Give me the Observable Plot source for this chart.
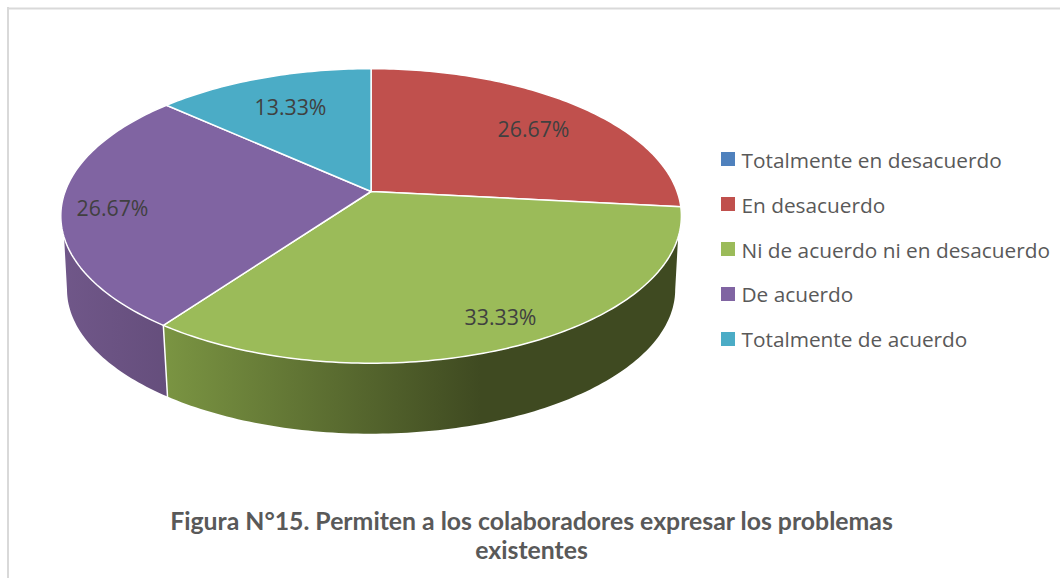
<!DOCTYPE html>
<html>
<head>
<meta charset="utf-8">
<script src="https://cdn.jsdelivr.net/npm/d3@7"></script>
<script src="https://cdn.jsdelivr.net/npm/@observablehq/plot@0.6"></script>
<style>html,body{margin:0;padding:0;background:#fff}svg{display:block}</style>
</head>
<body>
<div id="chart"></div>
<script>
const categories = ["Totalmente en desacuerdo","En desacuerdo","Ni de acuerdo ni en desacuerdo","De acuerdo","Totalmente de acuerdo"];
const percents = [0, 26.67, 33.33, 26.67, 13.33];
const colors = ["#4f81bd","#c0504d","#9bbb59","#8064a2","#4bacc6"];
const titleLines = ["Figura N°15. Permiten a los colaboradores expresar los problemas","existentes"];

// perspective view of the pie disc
const cx = 370.6, cy = 191, persp = 0.166, ax = 306, ay = 143.2;
const botScale = 0.98, botBottom = 433, topBottom = 362.5;
const project = deg => {
  const t = deg * Math.PI / 180, X = Math.sin(t), Y = -Math.cos(t), w = 1 - persp * Y;
  return [cx + ax * X / w, cy + ay * Y / w];
};
const lower = ([x, y]) => [cx + botScale * (x - cx), botBottom + botScale * (y - topBottom)];
const arcDeg = (a, b) => {
  const n = Math.max(2, Math.ceil(Math.abs(b - a))), out = [];
  for (let i = 0; i <= n; i++) out.push(a + (b - a) * i / n);
  return out;
};
const arcs = d3.pie().sort(null).value(d => d)(percents).map((a, i) => ({
  category: categories[i], value: percents[i],
  a0: a.startAngle * 180 / Math.PI, a1: a.endAngle * 180 / Math.PI
})).filter(a => a.value > 0);

const slicePts = arcs.flatMap(a => {
  const pts = [[cx, cy], ...arcDeg(a.a0, a.a1).map(project), [cx, cy]];
  return pts.map(([x, y]) => ({x, y, category: a.category}));
});
const labels = [
  {t: "26.67%", x: 533, y: 130}, {t: "33.33%", x: 500, y: 318},
  {t: "26.67%", x: 112, y: 209}, {t: "13.33%", x: 290, y: 108}
];
const wallSlice = (name, a, b, c) => {
  const top = arcDeg(a, b).map(project);
  const bot = arcDeg(b, c).map(d => lower(project(d)));
  const pts = [...top, ...bot, top[0]];
  return pts.map(([x, y]) => ({x, y, name}));
};
const tanR = 107.7, tanL = 252.3, wideR = 99.6, wideL = 260.4;
const divide = arcs.find(a => a.category === "De acuerdo").a0;
const greenWall = wallSlice("g", tanR, divide, wideR);
const purpleWall = wallSlice("p", tanL, divide, wideL);
const divTop = project(divide), divBot = lower(divTop);

const defs = () => {
  const d = d3.create("svg:defs");
  const add = (id, stops) => {
    const g = d.append("linearGradient").attr("id", id).attr("gradientUnits", "userSpaceOnUse")
      .attr("x1", stops[0][0]).attr("x2", stops[stops.length - 1][0]).attr("y1", 0).attr("y2", 0);
    const x0 = stops[0][0], x1 = stops[stops.length - 1][0];
    stops.forEach(([x, c]) => g.append("stop").attr("offset", (x - x0) / (x1 - x0)).attr("stop-color", c));
  };
  add("gw", [[166, "#7a9442"], [480, "#3f4a21"], [680, "#3f4a21"]]);
  add("pw", [[62, "#705789"], [168, "#654e7c"]]);
  return d.node();
};

const font = "'Open Sans', sans-serif";
const plot = Plot.plot({
  width: 1060, height: 578, margin: 0,
  x: {domain: [0, 1060], range: [0, 1060], axis: null},
  y: {domain: [0, 578], range: [0, 578], axis: null},
  color: {domain: categories, range: colors},
  style: {background: "#fff"},
  marks: [
    defs,
    Plot.ruleY([8], {x1: 7, x2: 1060, stroke: "#d9d9d9", strokeWidth: 2}),
    Plot.ruleX([7.5], {y1: 7, y2: 578, stroke: "#d9d9d9", strokeWidth: 2}),
    Plot.line(greenWall, {x: "x", y: "y", fill: "url(#gw)", stroke: "none", curve: "linear"}),
    Plot.line(purpleWall, {x: "x", y: "y", fill: "url(#pw)", stroke: "none", curve: "linear"}),
    Plot.line([divTop, divBot], {x: d => d[0], y: d => d[1], stroke: "#fff", strokeWidth: 1.5}),
    Plot.line(slicePts, {x: "x", y: "y", z: "category", fill: "category", stroke: "#fff", strokeWidth: 1.5, curve: "linear"}),
    Plot.text(labels, {x: "x", y: "y", text: "t", fill: "#404040", fontFamily: font, fontSize: 21.3, lineAnchor: "middle"}),
    Plot.rect(categories, {x1: () => 721, x2: () => 735, y1: (d, i) => 152 + i * 45, y2: (d, i) => 166 + i * 45, fill: d => d}),
    Plot.text(categories, {x: () => 741, y: (d, i) => 161 + i * 44.7, text: d => d, textAnchor: "start", lineAnchor: "middle", fill: "#595959", fontFamily: font, fontSize: 20.8}),
    Plot.text(titleLines, {x: () => 531, y: (d, i) => 522 + i * 29, text: d => d, fill: "#595959", fontFamily: "Lato, sans-serif", fontWeight: 700, fontSize: 24.8, lineAnchor: "middle"})
  ]
});
document.getElementById("chart").append(plot);
</script>
</body>
</html>
